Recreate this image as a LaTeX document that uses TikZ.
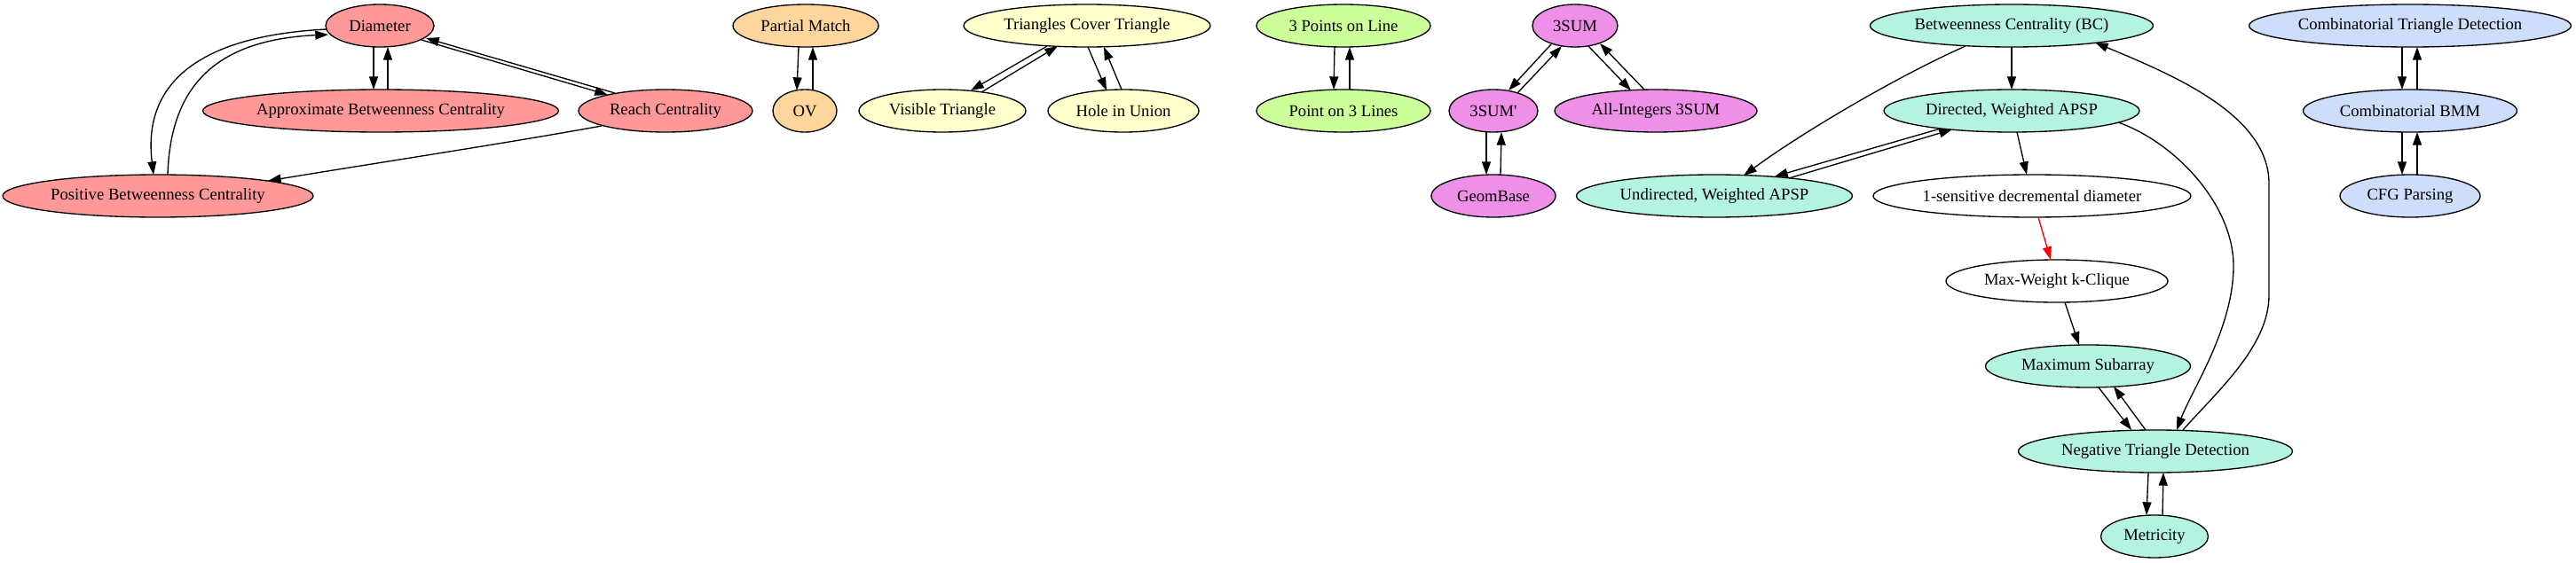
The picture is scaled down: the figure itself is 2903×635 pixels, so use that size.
\documentclass[tikz,border=0pt]{standalone}
\usepackage{fontspec}
\setmainfont{Liberation Serif}
\usetikzlibrary{shapes.geometric,arrows.meta,calc}
\definecolor{cpink}{HTML}{FF9999}
\definecolor{corange}{HTML}{FFD59E}
\definecolor{cyellow}{HTML}{FFFFCC}
\definecolor{cgreen}{HTML}{CCFF99}
\definecolor{cviolet}{HTML}{EE90E8}
\definecolor{cteal}{HTML}{B4F2E2}
\definecolor{cblue}{HTML}{CEDDF9}
\newcommand{\myedge}[5][black]{\draw[arr,#1] ($(#2)+(#3)$) -- ($(#4)+(#5)$);}
\begin{document}
\begin{tikzpicture}[x=0.75pt,y=-0.75pt,
  nd/.style={ellipse, draw=black, line width=1pt, inner sep=0pt, minimum height=36pt,
    minimum width=#1*0.75pt, font=\fontsize{14}{16}\selectfont},
  arr/.style={-{Triangle[length=11pt,width=7.5pt]}, line width=1pt}]
\useasboundingbox (0,0) rectangle (2903,635);
% nodes
\node[nd=122,fill=cpink] (dia) at (428,29) {Diameter};
\node[nd=401,fill=cpink] (apx) at (429,125) {Approximate Betweenness Centrality};
\node[nd=196,fill=cpink] (rch) at (750,125) {Reach Centrality};
\node[nd=350,fill=cpink] (pos) at (178,221) {Positive Betweenness Centrality};
\node[nd=164,fill=corange] (pm) at (908,29) {Partial Match};
\node[nd=72,fill=corange] (ov) at (907,125) {OV};
\node[nd=278,fill=cyellow] (tct) at (1225,29) {Triangles Cover Triangle};
\node[nd=188,fill=cyellow] (vis) at (1062,125) {Visible Triangle};
\node[nd=170,fill=cyellow] (hole) at (1266,125) {Hole in Union};
\node[nd=196,fill=cgreen] (p3l) at (1514,29) {3 Points on Line};
\node[nd=196,fill=cgreen] (pt3) at (1514,125) {Point on 3 Lines};
\node[nd=96,fill=cviolet] (s3) at (1775,29) {3SUM};
\node[nd=100,fill=cviolet] (s3p) at (1683,125) {3SUM\textquotesingle};
\node[nd=228,fill=cviolet] (ai3) at (1866,125) {All-Integers 3SUM};
\node[nd=140,fill=cviolet] (gb) at (1683,221) {GeomBase};
\node[nd=319,fill=cteal] (bc) at (2267,29) {Betweenness Centrality (BC)};
\node[nd=288,fill=cteal] (dw) at (2267,125) {Directed, Weighted APSP};
\node[nd=311,fill=cteal] (uw) at (1932,221) {Undirected, Weighted APSP};
\node[nd=358,fill=white] (sens) at (2290,221) {1-sensitive decremental diameter};
\node[nd=250,fill=white] (mwk) at (2318,317) {Max-Weight k-Clique};
\node[nd=231,fill=cteal] (msa) at (2353,413) {Maximum Subarray};
\node[nd=309,fill=cteal] (ntd) at (2429,509) {Negative Triangle Detection};
\node[nd=121,fill=cteal] (met) at (2428,605) {Metricity};
\node[nd=363,fill=cblue] (ctd) at (2716,29) {Combinatorial Triangle Detection};
\node[nd=241,fill=cblue] (bmm) at (2716,125) {Combinatorial BMM};
\node[nd=158,fill=cblue] (cfg) at (2716,221) {CFG Parsing};
% pink edges
\myedge{dia}{-7,24}{apx}{-8,-24}
\myedge{apx}{8,-24}{dia}{9,24}
\myedge{dia}{47,16}{rch}{-65,-18}
\myedge{rch}{-57,-20}{dia}{52,14}
\draw[arr] ($(dia)+(-60,4)$) .. controls (230,40) and (160,90) .. ($(pos)+(-5,-24)$);
\draw[arr] ($(pos)+(11,-24)$) .. controls (192,100) and (240,45) .. ($(dia)+(-58,10)$);
\draw[arr] ($(rch)+(-72,17)$) .. controls (580,160) and (398,188) .. ($(pos)+(124,-17)$);
% orange
\myedge{pm}{-8,24}{ov}{-9,-23}
\myedge{ov}{9,-23}{pm}{8,24}
% yellow
\myedge{tct}{-45,23}{vis}{32,-23}
\myedge{vis}{44,-21}{tct}{-33,23}
\myedge{tct}{1,24}{hole}{-19,-23}
\myedge{hole}{-2,-24}{tct}{19,24}
% green
\myedge{p3l}{-10,24}{pt3}{-11,-24}
\myedge{pt3}{7,-24}{p3l}{7,24}
% violet
\myedge{s3}{-27,21}{s3p}{17,-23}
\myedge{s3p}{27,-20}{s3}{-15,23}
\myedge{s3}{15,23}{ai3}{-28,-23}
\myedge{ai3}{-13,-24}{s3}{28,20}
\myedge{s3p}{-8,24}{gb}{-8,-24}
\myedge{gb}{8,-24}{s3p}{9,24}
% teal
\draw[arr] ($(bc)+(-52,23)$) .. controls (2140,85) and (2030,150) .. ($(uw)+(33,-23)$);
\myedge{bc}{0,24}{dw}{0,-24}
\myedge{uw}{84,-20}{dw}{-67,21}
\myedge{dw}{-80,20}{uw}{68,-22}
\myedge{dw}{6,24}{sens}{-6,-24}
\myedge[red]{sens}{7,24}{mwk}{-7,-24}
\myedge{mwk}{9,24}{msa}{-10,-24}
\myedge{msa}{12,24}{ntd}{-27,-24}
\myedge{ntd}{-11,-24}{msa}{29,23}
\draw[arr] ($(dw)+(120,13)$) .. controls (2450,160) and (2517,230) .. (2517,300)
  .. controls (2517,370) and (2470,440) .. ($(ntd)+(24,-24)$);
\draw[arr] ($(ntd)+(31,-24)$) .. controls (2500,440) and (2557,390) .. (2557,333)
  -- (2557,207) .. controls (2557,130) and (2450,85) .. ($(bc)+(94,19)$);
\myedge{ntd}{-8,24}{met}{-9,-24}
\myedge{met}{9,-24}{ntd}{9,24}
% blue
\myedge{ctd}{-9,24}{bmm}{-9,-24}
\myedge{bmm}{8,-24}{ctd}{8,24}
\myedge{bmm}{-9,24}{cfg}{-9,-24}
\myedge{cfg}{8,-24}{bmm}{8,24}
\end{tikzpicture}
\end{document}
